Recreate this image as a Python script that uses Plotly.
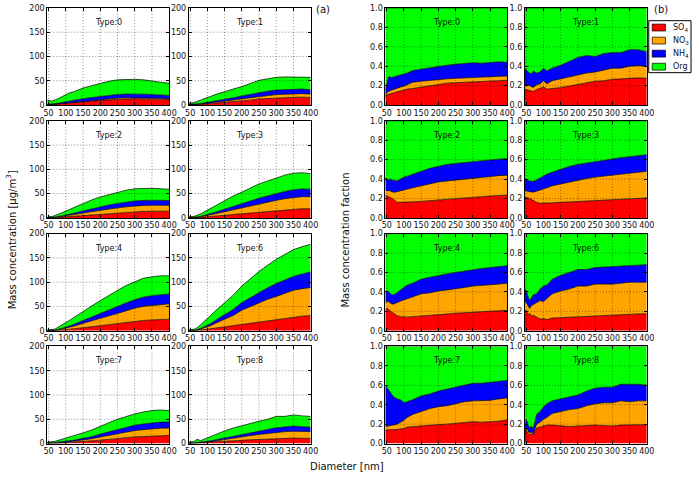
import plotly.graph_objects as go

W, H = 700, 478

# ---------------- data ----------------
diameter_nm = [46, 50, 55, 60, 65, 70, 80, 90, 100, 110, 125, 150, 175, 200, 225, 250, 275, 300, 325, 350, 375, 400]

type_labels = ["Type:0", "Type:1", "Type:2", "Type:3", "Type:4", "Type:6", "Type:7", "Type:8"]
species_labels = ["SO<sub>4</sub>", "NO<sub>3</sub>", "NH<sub>4</sub>", "Org"]
species_colors = ["#ff0000", "#ffa500", "#0000ff", "#00ff00"]
x_ticks = [50, 100, 150, 200, 250, 300, 350, 400]
mass_ticks = [0, 50, 100, 150, 200]
frac_ticks = [0.0, 0.2, 0.4, 0.6, 0.8, 1.0]
frac_ticktext = ["0.0", "0.2", "0.4", "0.6", "0.8", "1.0"]

# total mass concentration (ug/m3) per type
total_t0 = [10, 10, 9, 8, 9, 11, 14, 18, 22, 25, 28, 35, 40, 45, 49, 52, 53, 53, 52, 49, 47, 45]
total_t1 = [4, 4, 4, 5, 6, 7, 10, 13, 15, 18, 22, 28, 33, 38, 44, 51, 54, 57, 58, 58, 58, 57]
total_t2 = [2, 2, 2, 3, 4, 5, 8, 11, 14, 17, 22, 30, 37, 43, 48, 53, 57, 60, 61, 61, 60, 59]
total_t3 = [2, 2, 2, 3, 4, 5, 8, 12, 16, 20, 26, 36, 45, 53, 62, 70, 76, 82, 88, 92, 93, 91]
total_t4 = [2, 2, 2, 3, 3, 4, 8, 12, 16, 21, 28, 40, 51, 62, 73, 83, 93, 101, 108, 111, 113, 113]
total_t6 = [2, 2, 2, 3, 4, 6, 12, 18, 25, 32, 42, 58, 73, 92, 108, 122, 135, 147, 157, 167, 173, 178]
total_t7 = [3, 3, 3, 4, 4, 5, 7, 9, 11, 13, 16, 22, 28, 36, 43, 50, 56, 61, 65, 68, 69, 68]
total_t8 = [3, 3, 4, 4, 6, 9, 6, 9, 12, 14, 18, 26, 32, 37, 42, 46, 50, 56, 56, 59, 57, 56]

# mass fractions per species and type (Org = remainder)
so4_t0 = [0.08, 0.10, 0.11, 0.115, 0.12, 0.125, 0.14, 0.15, 0.155, 0.165, 0.17, 0.185, 0.20, 0.215, 0.225, 0.23, 0.235, 0.24, 0.245, 0.25, 0.255, 0.255]
no3_t0 = [0.01, 0.03, 0.03, 0.035, 0.035, 0.035, 0.035, 0.035, 0.04, 0.045, 0.065, 0.06, 0.055, 0.05, 0.045, 0.045, 0.045, 0.045, 0.04, 0.04, 0.04, 0.045]
nh4_t0 = [0.06, 0.09, 0.15, 0.14, 0.125, 0.13, 0.125, 0.125, 0.125, 0.12, 0.12, 0.125, 0.13, 0.135, 0.14, 0.145, 0.145, 0.15, 0.145, 0.15, 0.15, 0.14]

so4_t1 = [0.16, 0.16, 0.155, 0.15, 0.145, 0.14, 0.16, 0.17, 0.185, 0.165, 0.17, 0.18, 0.195, 0.21, 0.23, 0.245, 0.25, 0.265, 0.27, 0.275, 0.28, 0.275]
no3_t1 = [0.05, 0.05, 0.05, 0.05, 0.045, 0.04, 0.05, 0.05, 0.065, 0.055, 0.08, 0.09, 0.095, 0.10, 0.10, 0.095, 0.11, 0.115, 0.11, 0.125, 0.125, 0.125]
nh4_t1 = [0.17, 0.15, 0.135, 0.13, 0.13, 0.17, 0.12, 0.12, 0.13, 0.13, 0.13, 0.14, 0.16, 0.18, 0.18, 0.16, 0.17, 0.16, 0.16, 0.17, 0.165, 0.15]

so4_t2 = [0.235, 0.23, 0.22, 0.21, 0.20, 0.19, 0.16, 0.16, 0.16, 0.16, 0.165, 0.17, 0.178, 0.185, 0.193, 0.20, 0.205, 0.21, 0.218, 0.225, 0.23, 0.235]
no3_t2 = [0.055, 0.05, 0.06, 0.07, 0.07, 0.075, 0.11, 0.12, 0.13, 0.14, 0.145, 0.16, 0.172, 0.185, 0.187, 0.19, 0.195, 0.20, 0.202, 0.205, 0.205, 0.205]
nh4_t2 = [0.13, 0.12, 0.11, 0.12, 0.12, 0.12, 0.11, 0.12, 0.13, 0.13, 0.14, 0.15, 0.16, 0.16, 0.17, 0.17, 0.17, 0.17, 0.17, 0.17, 0.17, 0.17]

so4_t3 = [0.21, 0.21, 0.205, 0.20, 0.19, 0.18, 0.16, 0.15, 0.15, 0.15, 0.155, 0.16, 0.165, 0.17, 0.175, 0.18, 0.185, 0.19, 0.195, 0.20, 0.203, 0.205]
no3_t3 = [0.07, 0.07, 0.07, 0.07, 0.075, 0.085, 0.115, 0.14, 0.15, 0.16, 0.175, 0.19, 0.205, 0.22, 0.23, 0.24, 0.245, 0.25, 0.255, 0.26, 0.267, 0.275]
nh4_t3 = [0.12, 0.11, 0.11, 0.11, 0.11, 0.11, 0.115, 0.12, 0.13, 0.14, 0.14, 0.15, 0.16, 0.16, 0.16, 0.16, 0.165, 0.17, 0.17, 0.17, 0.17, 0.17]

so4_t4 = [0.22, 0.23, 0.22, 0.20, 0.19, 0.18, 0.155, 0.145, 0.14, 0.14, 0.145, 0.15, 0.158, 0.165, 0.172, 0.18, 0.185, 0.19, 0.195, 0.20, 0.205, 0.21]
no3_t4 = [0.07, 0.07, 0.08, 0.09, 0.085, 0.095, 0.135, 0.165, 0.18, 0.19, 0.205, 0.23, 0.232, 0.245, 0.248, 0.25, 0.26, 0.27, 0.27, 0.27, 0.275, 0.28]
nh4_t4 = [0.11, 0.11, 0.10, 0.09, 0.095, 0.095, 0.10, 0.11, 0.13, 0.14, 0.14, 0.15, 0.16, 0.16, 0.165, 0.17, 0.17, 0.17, 0.175, 0.18, 0.18, 0.18]

so4_t6 = [0.20, 0.21, 0.16, 0.18, 0.15, 0.16, 0.14, 0.12, 0.125, 0.115, 0.13, 0.135, 0.138, 0.14, 0.145, 0.15, 0.155, 0.16, 0.165, 0.17, 0.173, 0.175]
no3_t6 = [0.10, 0.08, 0.10, 0.05, 0.11, 0.11, 0.15, 0.19, 0.175, 0.215, 0.25, 0.275, 0.292, 0.32, 0.315, 0.33, 0.325, 0.32, 0.325, 0.33, 0.327, 0.325]
nh4_t6 = [0.13, 0.12, 0.09, 0.08, 0.08, 0.10, 0.09, 0.12, 0.16, 0.14, 0.15, 0.16, 0.17, 0.17, 0.17, 0.17, 0.175, 0.18, 0.175, 0.17, 0.175, 0.18]

so4_t7 = [0.14, 0.14, 0.14, 0.14, 0.14, 0.145, 0.145, 0.15, 0.155, 0.17, 0.175, 0.18, 0.19, 0.195, 0.20, 0.21, 0.22, 0.225, 0.22, 0.225, 0.23, 0.245]
no3_t7 = [0.035, 0.04, 0.04, 0.045, 0.048, 0.045, 0.055, 0.07, 0.085, 0.10, 0.125, 0.15, 0.17, 0.185, 0.19, 0.20, 0.21, 0.215, 0.22, 0.22, 0.23, 0.225]
nh4_t7 = [0.425, 0.40, 0.37, 0.335, 0.312, 0.29, 0.26, 0.23, 0.18, 0.16, 0.15, 0.16, 0.15, 0.16, 0.17, 0.17, 0.17, 0.18, 0.18, 0.185, 0.18, 0.18]

so4_t8 = [0.06, 0.13, 0.11, 0.09, 0.10, 0.09, 0.16, 0.17, 0.18, 0.19, 0.19, 0.185, 0.175, 0.18, 0.185, 0.19, 0.185, 0.18, 0.19, 0.19, 0.19, 0.195]
no3_t8 = [0.03, 0.03, 0.02, 0.02, 0.02, 0.01, 0.04, 0.05, 0.07, 0.08, 0.12, 0.145, 0.175, 0.18, 0.205, 0.22, 0.235, 0.24, 0.25, 0.24, 0.25, 0.245]
nh4_t8 = [0.08, 0.09, 0.06, 0.05, 0.06, 0.05, 0.10, 0.11, 0.13, 0.14, 0.13, 0.13, 0.13, 0.14, 0.15, 0.16, 0.16, 0.16, 0.17, 0.18, 0.17, 0.16]

totals = [total_t0, total_t1, total_t2, total_t3, total_t4, total_t6, total_t7, total_t8]
so4 = [so4_t0, so4_t1, so4_t2, so4_t3, so4_t4, so4_t6, so4_t7, so4_t8]
no3 = [no3_t0, no3_t1, no3_t2, no3_t3, no3_t4, no3_t6, no3_t7, no3_t8]
nh4 = [nh4_t0, nh4_t1, nh4_t2, nh4_t3, nh4_t4, nh4_t6, nh4_t7, nh4_t8]

# ---------------- layout geometry (pixels) ----------------
cols_px = [[(44, 168), (188, 312)], [(388, 512), (530, 654)]]
rows_px = [(4, 103), (119, 218), (234, 333), (349, 448)]

FONT = "DejaVu Sans"
TICK_FONT = dict(family=FONT, size=8, color="#111")
GRID_LINE = dict(color="rgba(0,0,0,0.55)", width=0.8, dash="1px,2px")


def px_x(a, b):
    return [a / W, b / W]


def px_y(top, bottom):
    return [1 - bottom / H, 1 - top / H]


fig = go.Figure()
layout = {}
annotations = []
shapes = []

for p in range(2):
    for k in range(8):
        r, c = divmod(k, 2)
        n = p * 8 + k + 1
        sfx = "" if n == 1 else str(n)
        xa, ya = f"x{sfx}", f"y{sfx}"
        tot = totals[k]
        fr_s, fr_n, fr_a = so4[k], no3[k], nh4[k]
        fr_o = [round(1 - s - q - a, 4) for s, q, a in zip(fr_s, fr_n, fr_a)]
        fracs = [fr_s, fr_n, fr_a, fr_o]
        for j in range(4):
            if p == 0:
                yv = [round(t * f, 4) for t, f in zip(tot, fracs[j])]
            else:
                yv = fracs[j]
            fig.add_trace(go.Scatter(
                x=diameter_nm, y=yv, mode="lines", stackgroup=f"g{n}",
                line=dict(color="black", width=0.7), fillcolor=species_colors[j],
                name=species_labels[j], showlegend=False, hoverinfo="skip",
                xaxis=xa, yaxis=ya))

        x0, x1 = cols_px[p][c]
        t0, t1 = rows_px[r]
        layout[f"xaxis{sfx}"] = dict(
            domain=px_x(x0, x1), anchor=ya, range=[46, 400],
            tickvals=x_ticks, ticks="inside", ticklen=3, tickcolor="black",
            showline=True, linecolor="black", linewidth=1, mirror="ticks",
            showgrid=False, zeroline=False, tickfont=TICK_FONT, tickangle=0)
        if p == 0:
            yax = dict(range=[0, 200], tickvals=mass_ticks)
        else:
            yax = dict(range=[0, 1], tickvals=frac_ticks, ticktext=frac_ticktext)
        yax.update(domain=px_y(t0, t1), anchor=xa, ticks="inside", ticklen=3,
                   tickcolor="black", showline=True, linecolor="black", linewidth=1,
                   mirror="ticks", showgrid=False, zeroline=False, tickfont=TICK_FONT)
        layout[f"yaxis{sfx}"] = yax

        annotations.append(dict(
            text=type_labels[k], xref=f"{xa} domain", yref=f"{ya} domain",
            x=0.5, y=1, yshift=-14.5, xanchor="center", yanchor="middle",
            showarrow=False, font=dict(family=FONT, size=8, color="#111")))

        # dotted grid drawn above the filled areas
        for v in x_ticks[:-1]:
            shapes.append(dict(type="line", xref=xa, yref=f"{ya} domain",
                               x0=v, x1=v, y0=0, y1=1, line=GRID_LINE, layer="above"))
        hv = mass_ticks[1:-1] if p == 0 else frac_ticks[1:-1]
        for v in hv:
            shapes.append(dict(type="line", xref=f"{xa} domain", yref=ya,
                               x0=0, x1=1, y0=v, y1=v, line=GRID_LINE, layer="above"))

# legend (drawn manually to match the compact boxed legend)
lx0, lx1, ly0, ly1 = 656, 699, 17, 70
shapes.append(dict(type="rect", xref="paper", yref="paper",
                   x0=lx0 / W, x1=lx1 / W, y0=1 - ly1 / H, y1=1 - ly0 / H,
                   line=dict(color="black", width=1), fillcolor="white", layer="above"))
for j in range(4):
    cy = 24 + j * 13.3
    shapes.append(dict(type="rect", xref="paper", yref="paper",
                       x0=659.5 / W, x1=673 / W, y0=1 - (cy + 3.5) / H, y1=1 - (cy - 3.5) / H,
                       line=dict(color="black", width=0.7), fillcolor=species_colors[j], layer="above"))
    annotations.append(dict(text=species_labels[j], xref="paper", yref="paper",
                            x=679 / W, y=1 - cy / H, xanchor="left", yanchor="middle",
                            showarrow=False, font=dict(family=FONT, size=8, color="#111")))

# panel tags and axis titles
annotations += [
    dict(text="(a)", xref="paper", yref="paper", x=325 / W, y=1 - 6 / H,
         xanchor="center", yanchor="middle", showarrow=False,
         font=dict(family=FONT, size=10, color="#111")),
    dict(text="(b)", xref="paper", yref="paper", x=668 / W, y=1 - 6 / H,
         xanchor="center", yanchor="middle", showarrow=False,
         font=dict(family=FONT, size=10, color="#111")),
    dict(text="Mass concentration [μg/m<sup>3</sup>]", xref="paper", yref="paper",
         x=8 / W, y=1 - 240 / H, textangle=-90, xanchor="center", yanchor="middle",
         showarrow=False, font=dict(family=FONT, size=10, color="#111")),
    dict(text="Mass concentration faction", xref="paper", yref="paper",
         x=347 / W, y=1 - 241 / H, textangle=-90, xanchor="center", yanchor="middle",
         showarrow=False, font=dict(family=FONT, size=10, color="#111")),
    dict(text="Diameter [nm]", xref="paper", yref="paper",
         x=349 / W, y=1 - 471 / H, xanchor="center", yanchor="middle",
         showarrow=False, font=dict(family=FONT, size=10, color="#111")),
]

fig.update_layout(
    width=W, height=H, autosize=False,
    margin=dict(l=0, r=0, t=0, b=0),
    paper_bgcolor="white", plot_bgcolor="white",
    showlegend=False, font=dict(family=FONT),
    annotations=annotations, shapes=shapes, **layout)

fig.write_html("out.html",
               config={"displayModeBar": False},
               post_script="document.body.style.margin='0';document.body.style.padding='0';")
